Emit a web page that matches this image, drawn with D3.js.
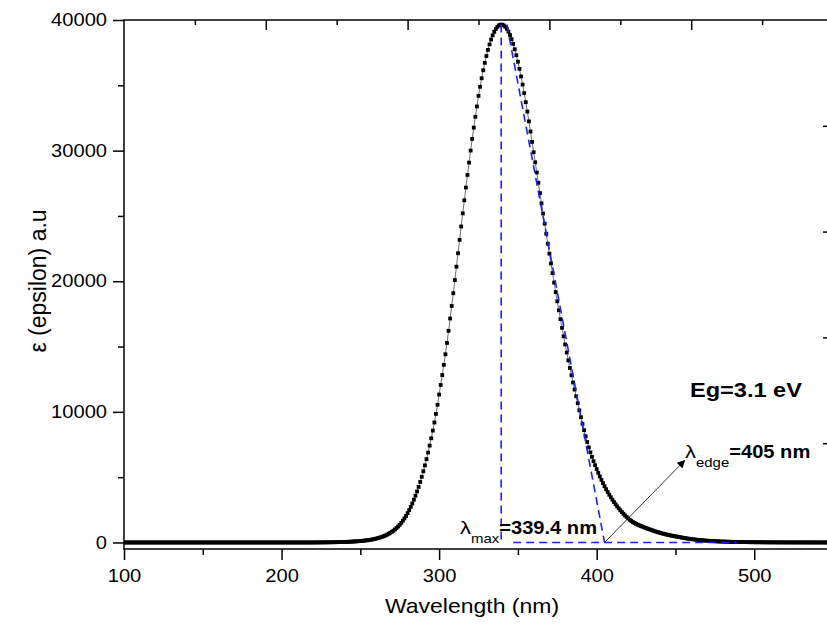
<!DOCTYPE html>
<html><head><meta charset="utf-8">
<script src="https://cdn.jsdelivr.net/npm/d3@7/dist/d3.min.js"></script>
<style>body{margin:0;background:#fff;} svg{display:block;}</style>
</head><body>
<svg id="chart" width="827" height="635"></svg>
<script>
// ---------------- data ----------------
const wavelengthStart = 100;   // nm, one reading per nm
const epsilon = [
  0,0,0,0,0,0,0,0,0,0, 0,0,0,0,0,0,0,0,0,0,
  0,0,0,0,0,0,0,0,0,0, 0,0,0,0,0,0,0,0,0,0,
  0,0,0,0,0,0,0,0,0,0, 0,0,0,0,0,0,0,0,0,0,
  0,0,0,0,0,0,0,0,0,0, 0,0,0,0,0,0,0,0,0,0,
  0,0,0,0,0,0,0,0,0,0, 0,0,0,0,0,0,0,0,0,0,
  0,0,0,0,0,0,0,0,0,0, 0,0,0,0,0,0,0,0,0,0,
  3,3,4,5,6,7,8,9,10,11, 13,15,17,19,21,24,27,30,33,37,
  41,45,50,55,61,67,74,82,90,100,
  110,121,133,147,161,178,197,218,241,267,
  295,327,361,398,439,484,539,600,666,739,
  819,906,1002,1107,1222,1350,1498,1665,1841,2037,
  2245,2476,2720,2990,3274,3579,3906,4256,4630,5028,
  5452,5903,6380,6885,7417,7978,8566,9185,9843,10541,
  11324,12055,12815,13599,14410,15278,16204,17146,18107,19082,
  20089,21115,22142,23169,24192,25197,26194,27175,28140,29083,
  30004,30897,31759,32588,33381,34193,34887,35540,36152,36720,
  37241,37710,38131,38504,38826,39096,39314,39478,39588,39643,
  39643,39590,39483,39323,39111,38848,38534,38171,37761,37304,
  36804,36260,35677,35056,34399,33709,32988,32238,31464,30666,
  29877,29104,28324,27538,26749,25965,25183,24411,23635,22874,
  22113,21359,20624,19892,19172,18464,17779,17099,16434,15785,
  15159,14542,13941,13356,12796,12245,11711,11194,10662,10117,
  9591,9085,8597,8127,7690,7280,6900,6555,6225,5915,
  5620,5331,5058,4796,4547,4304,4077,3860,3654,3458,
  3271,3093,2924,2763,2610,2465,2327,2197,2073,1955,
  1844,1742,1648,1565,1492,1427,1368,1313,1262,1213,
  1166,1119,1072,1027,984,943,900,858,819,781,
  746,712,679,648,618,590,563,537,512,488,
  466,445,424,402,378,355,334,314,295,276,
  260,244,229,215,201,189,178,167,156,146,
  136,127,119,111,103,96,90,84,78,73,68,
  64,60,56,53,50,47,44,41,39,36, 34,32,30,28,26,25,23,22,20,19,
  18,17,16,15,14,13,12,11,10,10, 9,9,8,8,7,7,6,6,6,5,
  5,5,4,4,4,4,3,3,3,3, 3,2,2,2,2,2,2,2,1,1,
  1,1,1,1,1,1,1,1,1,1
];
const wavelength = epsilon.map((_, i) => wavelengthStart + i);

const xDomain = [100, 550];
const yDomain = [-500, 40000];
const xTickValues = [100, 200, 300, 400, 500];
const xMinorTickValues = [150, 250, 350, 450, 550];
const yTickValues = [0, 10000, 20000, 30000, 40000];
const yMinorTickValues = [5000, 15000, 25000, 35000];
const topMajorTicks = [2, 4, 6, 8];
const topMinorTicks = [1, 3, 5, 7, 9];
const rightMajorTicks = [1, 2, 3, 4];

const xLabel = "Wavelength (nm)";
const yLabel = "ε (epsilon) a.u";

// annotation values
const lambdaMax = 339.4;
const peakEpsilon = 39650;
const lambdaEdge = 405;
const tangentTop = [343, 39650];
const baselineSpan = [347, 489];
const arrowTip = [456.2, 6320];
const lambdaMaxText = {sub: "max", value: "=339.4 nm", at: [313.3, 650]};
const lambdaEdgeText = {sub: "edge", value: "=405 nm", at: [456.1, 6475]};
const egText = {text: "Eg=3.1 eV", at: [459.2, 11150]};

// ---------------- drawing ----------------
const plot = {left: 124, top: 20, right: 833, bottom: 549};
const SX = 1.15;
const FONT = "'Liberation Sans', Arial, Helvetica, sans-serif";
const BLUE = "#2020ff";

const svg = d3.select("#chart");
const x = d3.scaleLinear().domain(xDomain).range([plot.left, plot.right]);
const y = d3.scaleLinear().domain(yDomain).range([plot.bottom, plot.top]);
const xTop = d3.scaleLinear().domain([0, 10]).range([plot.left, plot.right]);
const yRight = d3.scaleLinear().domain([0, 5]).range([plot.bottom, plot.top]);

svg.append("defs").append("clipPath").attr("id", "clip")
  .append("rect").attr("x", plot.left).attr("y", plot.top - 5)
  .attr("width", plot.right - plot.left).attr("height", plot.bottom - plot.top + 5);

const pts = wavelength.map((w, i) => [w, epsilon[i]]);
const gData = svg.append("g").attr("clip-path", "url(#clip)");

gData.append("path").datum(pts)
  .attr("d", d3.line().x(d => x(d[0])).y(d => y(d[1])))
  .attr("fill", "none").attr("stroke", "#333").attr("stroke-width", 0.7);

const ms = 3.8;
gData.selectAll("rect.m").data(pts).join("rect").attr("class", "m")
  .attr("x", d => x(d[0]) - ms / 2).attr("y", d => y(d[1]) - ms / 2)
  .attr("width", ms).attr("height", ms).attr("fill", "#000");

// blue dashed construction lines
const dash = "8,5";
function blueLine(p1, p2) {
  gData.append("line")
    .attr("x1", x(p1[0])).attr("y1", y(p1[1]))
    .attr("x2", x(p2[0])).attr("y2", y(p2[1]))
    .attr("stroke", BLUE).attr("stroke-width", 1.6).attr("stroke-dasharray", dash);
}
blueLine([lambdaMax, peakEpsilon], [lambdaMax, 0]);
blueLine([baselineSpan[0], 0], [baselineSpan[1], 0]);
blueLine(tangentTop, [lambdaEdge, 0]);

// arrow
svg.select("defs").append("marker").attr("id", "arr")
  .attr("viewBox", "0 0 10 10").attr("refX", 10).attr("refY", 5)
  .attr("markerWidth", 12).attr("markerHeight", 8).attr("markerUnits", "userSpaceOnUse")
  .attr("orient", "auto")
  .append("path").attr("d", "M0,0 L10,5 L0,10 Z").attr("fill", "#000");
svg.append("line")
  .attr("x1", x(lambdaEdge)).attr("y1", y(0))
  .attr("x2", x(arrowTip[0])).attr("y2", y(arrowTip[1]))
  .attr("stroke", "#000").attr("stroke-width", 0.8).attr("marker-end", "url(#arr)");

// axes
function finishAxis(sel, fontSize) {
  sel.select(".domain").remove();
  sel.selectAll(".tick line").attr("stroke", "#000").attr("stroke-width", 1.5);
  sel.selectAll(".tick text")
    .attr("font-family", FONT).attr("font-size", fontSize).attr("fill", "#000")
    .attr("x", function () { const v = this.getAttribute("x"); return v ? +v / SX : 0; })
    .attr("transform", `scale(${SX},1)`);
}
svg.append("g").attr("transform", `translate(${plot.left},0)`)
  .call(d3.axisLeft(y).tickValues(yTickValues).tickSize(11).tickPadding(6).tickFormat(d3.format("d")))
  .call(s => finishAxis(s, 17.5));
svg.append("g").attr("transform", `translate(${plot.left},0)`)
  .call(d3.axisLeft(y).tickValues(yMinorTickValues).tickSize(6).tickFormat(""))
  .call(s => finishAxis(s, 17));
svg.append("g").attr("transform", `translate(0,${plot.bottom})`)
  .call(d3.axisBottom(x).tickValues(xTickValues).tickSize(11).tickPadding(10).tickFormat(d3.format("d")))
  .call(s => finishAxis(s, 17.5));
svg.append("g").attr("transform", `translate(0,${plot.bottom})`)
  .call(d3.axisBottom(x).tickValues(xMinorTickValues).tickSize(6).tickFormat(""))
  .call(s => finishAxis(s, 17));
svg.append("g").attr("transform", `translate(0,${plot.top})`)
  .call(d3.axisTop(xTop).tickValues(topMajorTicks).tickSize(-10).tickFormat(""))
  .call(s => finishAxis(s, 17));
svg.append("g").attr("transform", `translate(0,${plot.top})`)
  .call(d3.axisTop(xTop).tickValues(topMinorTicks).tickSize(-5).tickFormat(""))
  .call(s => finishAxis(s, 17));
svg.append("g").attr("transform", `translate(${plot.right},0)`)
  .call(d3.axisRight(yRight).tickValues(rightMajorTicks).tickSize(-10).tickFormat(""))
  .call(s => finishAxis(s, 17));

// frame
const frame = svg.append("g").attr("stroke", "#000").attr("stroke-width", 1.5);
frame.append("line").attr("x1", plot.left - 0.75).attr("x2", plot.right).attr("y1", plot.top).attr("y2", plot.top);
frame.append("line").attr("x1", plot.left - 0.75).attr("x2", plot.right).attr("y1", plot.bottom).attr("y2", plot.bottom);
frame.append("line").attr("x1", plot.left).attr("x2", plot.left).attr("y1", plot.top).attr("y2", plot.bottom);
frame.append("line").attr("x1", plot.right).attr("x2", plot.right).attr("y1", plot.top).attr("y2", plot.bottom);

// axis titles
svg.append("text").attr("transform", `translate(472,613) scale(${SX},1)`)
  .attr("text-anchor", "middle").attr("font-family", FONT).attr("font-size", 20)
  .text(xLabel);
svg.append("text").attr("transform", `translate(46,281) rotate(-90)`)
  .attr("text-anchor", "middle").attr("font-family", FONT).attr("font-size", 23)
  .text(yLabel);

// annotations
function lambdaLabel(cfg) {
  const t = svg.append("text")
    .attr("transform", `translate(${x(cfg.at[0])},${y(cfg.at[1])}) scale(${SX},1)`)
    .attr("font-family", FONT).attr("fill", "#000");
  t.append("tspan").attr("font-size", 19).text("λ");
  t.append("tspan").attr("font-size", 13).attr("dy", 9).text(cfg.sub);
  t.append("tspan").attr("font-size", 17.5).attr("font-weight", "bold").attr("dy", -9).text(cfg.value);
}
lambdaLabel(lambdaMaxText);
lambdaLabel(lambdaEdgeText);
svg.append("text")
  .attr("transform", `translate(${x(egText.at[0])},${y(egText.at[1])}) scale(${SX},1)`)
  .attr("font-family", FONT).attr("font-size", 20.5).attr("font-weight", "bold")
  .text(egText.text);
</script>
</body></html>
